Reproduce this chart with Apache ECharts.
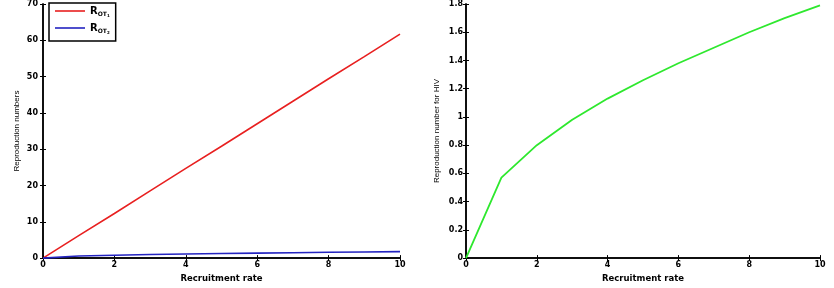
<!DOCTYPE html>
<html><head><meta charset="utf-8">
<script src="https://cdn.jsdelivr.net/npm/echarts@6/dist/echarts.min.js"></script>
<style>html,body{margin:0;padding:0;background:#fff}#c{width:834px;height:288px}</style>
</head><body><div id="c"></div>
<script>
const recruitmentRate = [0,1,2,3,4,5,6,7,8,9,10];
const rOT1 = [0,6.2,12.3,18.5,24.7,30.8,37.0,43.2,49.4,55.5,61.7];
const rOT2 = [0,0.57,0.8,0.98,1.13,1.26,1.38,1.49,1.6,1.7,1.79];
const rHIV = [0,0.57,0.8,0.98,1.13,1.26,1.38,1.49,1.6,1.7,1.79];
const leftYTicks = {min:0,max:70,interval:10};
const rightYTicks = {min:0,max:1.8,interval:0.2};
const xTicks = {min:0,max:10,interval:2};

const FONT = 'DejaVu Sans, sans-serif';
const lbl = {color:'#000',fontFamily:FONT,fontWeight:'bold',fontSize:8};
const tick = {show:true,inside:true,length:3,lineStyle:{color:'#000',width:1}};
const axLine = {show:true,lineStyle:{color:'#000',width:1.5}};

function xAxes(gi){
  return [
    {type:'value',gridIndex:gi,position:'bottom',...xTicks,axisLine:axLine,axisTick:tick,
     axisLabel:{...lbl,margin:3,formatter:v=>String(v)},splitLine:{show:false},
     name:'Recruitment rate',nameLocation:'middle',nameGap:12,nameTextStyle:{...lbl,fontSize:8.5}},
    {type:'value',gridIndex:gi,position:'top',...xTicks,axisLine:axLine,axisTick:tick,
     axisLabel:{show:false},splitLine:{show:false}}
  ];
}
function yAxes(gi,t,name,margin,gap){
  return [
    {type:'value',gridIndex:gi,position:'left',...t,axisLine:axLine,axisTick:tick,
     axisLabel:{...lbl,margin:margin,formatter:v=>String(+v.toFixed(1))},splitLine:{show:false},
     name:name,nameLocation:'middle',nameGap:gap,nameRotate:90,
     nameTextStyle:{color:'#000',fontFamily:'Liberation Sans, Arial, sans-serif',fontSize:8}},
    {type:'value',gridIndex:gi,position:'right',...t,axisLine:axLine,axisTick:tick,
     axisLabel:{show:false},splitLine:{show:false}}
  ];
}
const pairs = a => recruitmentRate.map((x,i)=>[x,a[i]]);
const chart = echarts.init(document.getElementById('c'),null,{renderer:'canvas'});
const richLeg = {
  R:{fontFamily:FONT,fontWeight:'bold',fontSize:10,color:'#000'},
  s:{fontFamily:FONT,fontWeight:'bold',fontSize:6,color:'#000',padding:[6,0,0,0]},
  ss:{fontFamily:FONT,fontWeight:'bold',fontSize:4,color:'#000',padding:[10,0,0,0]}
};
chart.setOption({
  animation:false,
  grid:[
    {left:43,right:434,top:3,bottom:29},
    {left:466,right:14,top:3,bottom:29}
  ],
  xAxis:[...xAxes(0),...xAxes(1)],
  yAxis:[...yAxes(0,leftYTicks,'Reproduction numbers',5,22),...yAxes(1,rightYTicks,'Reproduction number for HIV',3,25)],
  legend:{
    left:49,top:3,orient:'vertical',
    backgroundColor:'#fff',
    borderColor:'#000',borderWidth:1.5,borderRadius:0,
    padding:[3,6,6,6],itemGap:5,itemWidth:30,itemHeight:1.6,
    icon:'rect',
    data:['ROT1','ROT2'],
    formatter:n=> n==='ROT1' ? '{R|R}{s|OT}{ss|1}' : '{R|R}{s|OT}{ss|2}',
    textStyle:{rich:richLeg,height:14}
  },
  series:[
    {name:'ROT1',type:'line',xAxisIndex:0,yAxisIndex:0,data:pairs(rOT1),showSymbol:false,symbol:'none',
     lineStyle:{color:'#e82020',width:1.6},itemStyle:{color:'#e82020'}},
    {name:'ROT2',type:'line',xAxisIndex:0,yAxisIndex:0,data:pairs(rOT2),showSymbol:false,symbol:'none',
     lineStyle:{color:'#2323c0',width:1.6},itemStyle:{color:'#2323c0'}},
    {name:'HIV',type:'line',xAxisIndex:2,yAxisIndex:2,data:pairs(rHIV),showSymbol:false,symbol:'none',
     lineStyle:{color:'#2ee82e',width:1.8},itemStyle:{color:'#2ee82e'}}
  ]
});
</script></body></html>
